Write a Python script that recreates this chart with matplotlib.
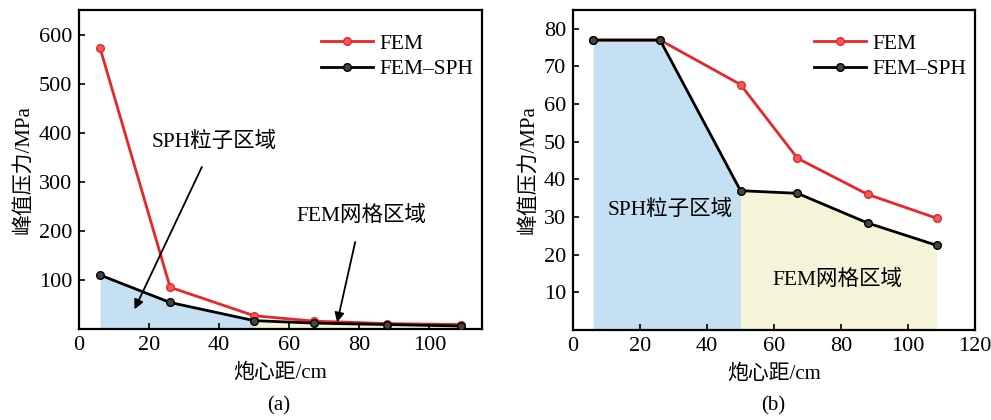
import matplotlib
matplotlib.use("Agg")
import matplotlib.pyplot as plt

plt.rcParams['font.family'] = ['Liberation Serif', 'Noto Sans CJK SC']
plt.rcParams['font.size'] = 15

# data
dist_a = [6, 26, 50, 67, 88, 109]
fem_a = [573, 85, 27, 16, 11, 9]
sph_a = [110, 54, 17, 12, 9, 6]

dist_b = [6, 26, 50, 67, 88, 108.5]
fem_b = [77, 77, 65.2, 45.6, 36.0, 29.7]
sph_b = [77, 77, 37.0, 36.3, 28.4, 22.5]

yticks_a = [100, 200, 300, 400, 500, 600]
yticks_b = [10, 20, 30, 40, 50, 60, 70, 80]

red = '#e8262a'
blue_fill = '#c5e0f3'
yellow_fill = '#f6f4d8'


def draw(ax, x, fem, sph, split):
    i = x.index(split)
    ax.fill_between(x[:i + 1], 0, sph[:i + 1], color=blue_fill, lw=0, zorder=1)
    ax.fill_between(x[i:], 0, sph[i:], color=yellow_fill, lw=0, zorder=1)
    ax.plot(x, fem, color=red, lw=2, marker='o', ms=5.5, mfc='#f25a5a',
            mec=red, label='FEM', zorder=3)
    ax.plot(x, sph, color='black', lw=2, marker='o', ms=5.5, mfc='#444444',
            mec='black', label='FEM\u2013SPH', zorder=4)
    ax.tick_params(direction='in', length=4, width=1.2, labelsize=16, pad=5)
    for s in ax.spines.values():
        s.set_linewidth(1.6)
    ax.set_xlabel('炮心距/cm', fontsize=15, labelpad=6)
    ax.set_ylabel('峰值压力/MPa', fontsize=15, labelpad=4)
    ax.legend(loc='upper right', bbox_to_anchor=(1.02, 0.98), frameon=False,
              fontsize=15.5, handlelength=2.4, borderaxespad=0.4,
              labelspacing=0.25, handletextpad=0.3)


fig = plt.figure(figsize=(9.91, 4.2), dpi=100)

ax1 = fig.add_axes([0.0797, 0.2167, 0.4067, 0.7595])
draw(ax1, dist_a, fem_a, sph_a, 50)
ax1.set_xlim(0, 115)
ax1.set_ylim(0, 650)
ax1.set_xticks([0, 20, 40, 60, 80, 100])
ax1.set_yticks(yticks_a)
ax1.annotate('SPH粒子区域', xy=(15.5, 35), xytext=(38.5, 382),
             ha='center', va='center', fontsize=15.5,
             arrowprops=dict(arrowstyle='-|>', color='black', lw=1.3,
                             mutation_scale=14, shrinkA=10))
ax1.annotate('FEM网格区域', xy=(73.5, 8), xytext=(80.5, 231),
             ha='center', va='center', fontsize=15.5,
             arrowprops=dict(arrowstyle='-|>', color='black', lw=1.3,
                             mutation_scale=14, shrinkA=10))

ax2 = fig.add_axes([0.5782, 0.2143, 0.4057, 0.762])
draw(ax2, dist_b, fem_b, sph_b, 50)
ax2.set_xlim(0, 120)
ax2.set_ylim(0, 85)
ax2.set_xticks([0, 20, 40, 60, 80, 100, 120])
ax2.set_yticks(yticks_b)
ax2.text(29, 31.8, 'SPH粒子区域', ha='center', va='center', fontsize=15.5, zorder=5)
ax2.text(79, 13.3, 'FEM网格区域', ha='center', va='center', fontsize=15.5, zorder=5)

fig.text(0.2815, 0.033, '(a)', ha='center', va='center', fontsize=15)
fig.text(0.7805, 0.033, '(b)', ha='center', va='center', fontsize=15)

fig.savefig('out.png', dpi=100)
